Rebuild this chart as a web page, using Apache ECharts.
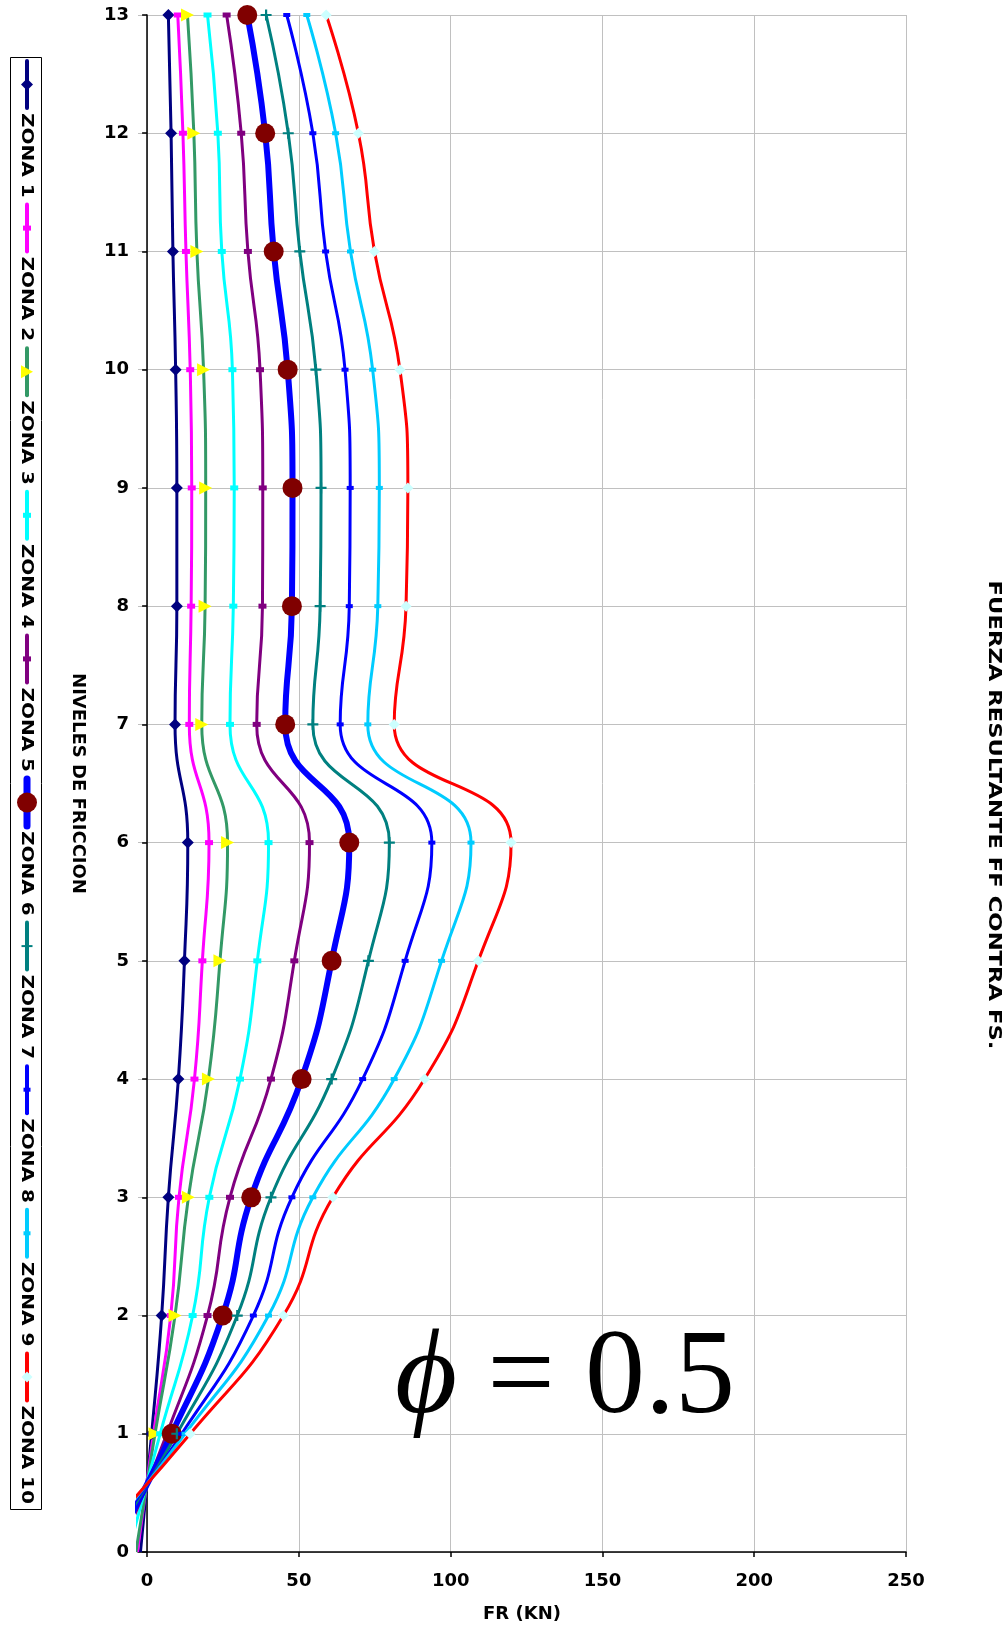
<!DOCTYPE html>
<html>
<head>
<meta charset="utf-8">
<title>Fuerza resultante FF contra FS</title>
<script src="https://cdn.jsdelivr.net/npm/echarts@6/dist/echarts.min.js"></script>
<style>
html, body { margin: 0; padding: 0; background: #fff; }
#main { width: 1007px; height: 1627px; }
</style>
</head>
<body>
<div id="main"></div>
<script>
// niveles de friccion (eje vertical) y FR en KN por zona
var niveles = [0, 1, 2, 3, 4, 5, 6, 7, 8, 9, 10, 11, 12, 13];
var zonas = ['ZONA 1', 'ZONA 2', 'ZONA 3', 'ZONA 4', 'ZONA 5', 'ZONA 6', 'ZONA 7', 'ZONA 8', 'ZONA 9', 'ZONA 10'];
var zona1 = [-2.2, 1.5, 4.8, 7.0, 10.3, 12.3, 13.4, 9.2, 9.8, 9.8, 9.4, 8.5, 7.9, 7.0];
var zona2 = [-3.2, 2.1, 7.8, 10.5, 15.6, 18.2, 20.4, 13.9, 14.5, 14.7, 14.2, 12.8, 11.8, 10.1];
var zona3 = [-3.7, 2.6, 9.2, 13.6, 20.2, 24.0, 26.5, 18.0, 19.1, 19.3, 18.6, 16.4, 15.4, 13.3];
var zona4 = [-6.2, 4.3, 15.0, 20.5, 30.6, 36.3, 40.0, 27.3, 28.4, 28.7, 28.1, 24.6, 23.3, 19.9];
var zona5 = [-9.3, 6.5, 19.9, 27.3, 40.8, 48.5, 53.5, 36.1, 38.0, 38.1, 37.2, 33.2, 31.0, 26.2];
var zona6 = [-11.7, 8.1, 24.9, 34.3, 50.9, 60.8, 66.6, 45.5, 47.7, 47.9, 46.3, 41.7, 38.9, 33.0];
var zona7 = [-14.0, 9.8, 29.7, 40.8, 60.8, 72.9, 79.8, 54.6, 57.0, 57.3, 55.6, 50.3, 46.5, 39.2];
var zona8 = [-16.4, 11.4, 35.0, 47.7, 71.0, 85.0, 93.8, 63.6, 66.6, 66.9, 65.2, 58.8, 54.6, 46.0];
var zona9 = [-18.0, 12.5, 40.0, 54.6, 81.4, 97.0, 106.7, 72.7, 76.0, 76.5, 74.3, 67.0, 62.1, 52.6];
var zona10 = [-20.4, 14.2, 44.9, 61.2, 91.4, 109.1, 119.9, 81.4, 85.3, 85.9, 83.3, 74.9, 69.6, 59.0];
var xTicks = [0, 50, 100, 150, 200, 250];

var valores = [zona1, zona2, zona3, zona4, zona5, zona6, zona7, zona8, zona9, zona10];

var plus = 'path://M4,0H6V4H10V6H6V10H4V6H0V4H4Z';
var estilos = [
    {color: '#000080', width: 3, symbol: 'diamond', size: 12, mark: '#000080'},
    {color: '#FF00FF', width: 3, symbol: 'rect', size: [8, 5], mark: '#FF00FF'},
    {color: '#339966', width: 3, symbol: 'triangle', size: 13, mark: '#FFFF00', rotate: -90},
    {color: '#00FFFF', width: 3, symbol: 'rect', size: [8, 5], mark: '#00FFFF'},
    {color: '#800080', width: 3, symbol: 'rect', size: [8, 5], mark: '#800080'},
    {color: '#0000FF', width: 6, symbol: 'circle', size: 20, mark: '#800000'},
    {color: '#008080', width: 3, symbol: plus, size: 11, mark: '#008080'},
    {color: '#0000FF', width: 3, symbol: 'rect', size: [7, 4], mark: '#0000FF'},
    {color: '#00CCFF', width: 3, symbol: 'rect', size: [7, 4], mark: '#00CCFF'},
    {color: '#FF0000', width: 3, symbol: 'diamond', size: 11, mark: '#CCFFFF'}
];

var fuente = '"DejaVu Sans", Verdana, sans-serif';

var series = valores.map(function (v, i) {
    var s = estilos[i];
    return {
        name: zonas[i],
        type: 'line',
        smooth: 0.5,
        data: niveles.map(function (n, k) {
            // el punto del nivel 0 queda fuera del area: sin marcador
            return k === 0 ? {value: [v[k], n], symbol: 'none'} : [v[k], n];
        }),
        symbol: s.symbol,
        symbolSize: s.size,
        symbolRotate: s.rotate || 0,
        showAllSymbol: true,
        lineStyle: {color: s.color, width: s.width},
        itemStyle: {color: s.mark, borderWidth: 0},
        emphasis: {disabled: true},
        clip: true
    };
});

// leyenda vertical, texto girado
function marcador(s, cx, cy) {
    var c = s.mark;
    if (s.symbol === 'diamond') {
        var d = s.size / 2;
        return [{type: 'polygon', shape: {points: [[cx, cy - d], [cx + d, cy], [cx, cy + d], [cx - d, cy]]}, style: {fill: c}}];
    }
    if (s.symbol === 'triangle') {
        return [{type: 'polygon', shape: {points: [[cx - 6, cy - 6.5], [cx + 6, cy], [cx - 6, cy + 6.5]]}, style: {fill: c}}];
    }
    if (s.symbol === 'circle') {
        return [{type: 'circle', shape: {cx: cx, cy: cy, r: s.size / 2}, style: {fill: c}}];
    }
    if (s.symbol === plus) {
        return [
            {type: 'rect', shape: {x: cx - 5.5, y: cy - 1, width: 11, height: 2}, style: {fill: c}},
            {type: 'rect', shape: {x: cx - 1, y: cy - 5.5, width: 2, height: 11}, style: {fill: c}}
        ];
    }
    return [{type: 'rect', shape: {x: cx - s.size[0] / 2, y: cy - s.size[1] / 2, width: s.size[0], height: s.size[1]}, style: {fill: c}}];
}

var graficos = [];
graficos.push({type: 'rect', shape: {x: 10.5, y: 57.5, width: 31, height: 1452}, style: {fill: '#fff', stroke: '#000', lineWidth: 1}, z: 10});
zonas.forEach(function (nombre, i) {
    var s = estilos[i];
    var y0 = 61 + i * 143.6;
    var cx = 27;
    graficos.push({type: 'line', shape: {x1: cx, y1: y0, x2: cx, y2: y0 + 47}, style: {stroke: s.color, lineWidth: s.width + 1, lineCap: 'round'}, z: 11});
    marcador(s, cx, y0 + 23.5).forEach(function (m) { m.z = 12; graficos.push(m); });
    graficos.push({
        type: 'text', x: 26.5, y: y0 + 52, rotation: -Math.PI / 2, scaleX: 1.25, z: 12,
        style: {text: nombre, fill: '#000', font: 'bold 16px ' + fuente, align: 'left', verticalAlign: 'middle', textAlign: 'left', textVerticalAlign: 'middle'}
    });
});
graficos.push({
    type: 'text', x: 994, y: 815, rotation: -Math.PI / 2, scaleX: 1.26, z: 12,
    style: {text: 'FUERZA RESULTANTE FF CONTRA FS.', fill: '#000', font: 'bold 18px ' + fuente, align: 'center', verticalAlign: 'middle', textAlign: 'center', textVerticalAlign: 'middle'}
});
graficos.push({
    type: 'text', x: 565, y: 1380, z: 12,
    style: {
        text: '{p|ϕ} = 0.5', fill: '#000', font: '120px "Liberation Serif", "DejaVu Serif", serif',
        align: 'center', verticalAlign: 'middle', textAlign: 'center', textVerticalAlign: 'middle',
        rich: {p: {fontStyle: 'italic', fontSize: 120, fontFamily: '"Liberation Serif", "DejaVu Serif", serif', fill: '#000'}}
    }
});

var myChart = echarts.init(document.getElementById('main'), null, {renderer: 'canvas'});
var option = {
    animation: false,
    backgroundColor: '#fff',
    grid: {left: 138, right: 101, top: 15, bottom: 75, outerBoundsMode: 'none'},
    xAxis: {
        type: 'value',
        min: -3,
        max: 250,
        name: 'FR (KN)',
        nameLocation: 'middle',
        nameGap: 53,
        nameTextStyle: {color: '#000', fontFamily: fuente, fontWeight: 'bold', fontSize: 18},
        axisLine: {show: true, onZero: false, lineStyle: {color: '#000', width: 1.5}},
        axisTick: {show: true, customValues: xTicks, length: 5, lineStyle: {color: '#000', width: 1.5}},
        axisLabel: {customValues: xTicks, margin: 20, color: '#000', fontFamily: fuente, fontWeight: 'bold', fontSize: 18},
        splitLine: {show: true, lineStyle: {color: '#c0c0c0', width: 1}}
    },
    yAxis: {
        type: 'value',
        min: 0,
        max: 13,
        interval: 1,
        name: 'NIVELES DE FRICCION',
        nameLocation: 'middle',
        nameRotate: -90,
        nameGap: 51,
        nameTextStyle: {color: '#000', fontFamily: fuente, fontWeight: 'bold', fontSize: 18},
        axisLine: {show: true, onZero: true, lineStyle: {color: '#000', width: 1.5}},
        axisTick: {show: true, length: 5, lineStyle: {color: '#000', width: 1.5}},
        axisLabel: {margin: 9, color: '#000', fontFamily: fuente, fontWeight: 'bold', fontSize: 18},
        splitLine: {show: true, lineStyle: {color: '#c0c0c0', width: 1}}
    },
    series: series,
    graphic: {elements: graficos}
};
myChart.setOption(option);
</script>
</body>
</html>
